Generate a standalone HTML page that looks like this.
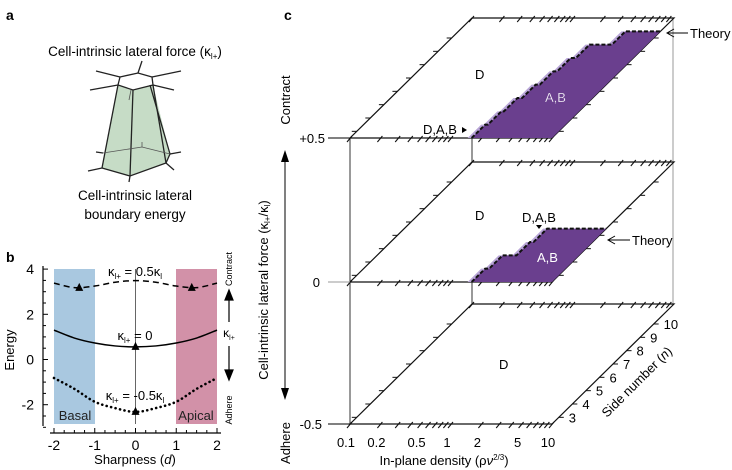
<!DOCTYPE html>
<html><head><meta charset="utf-8">
<style>
html,body{margin:0;padding:0;background:#fff;}
svg{display:block;font-family:"Liberation Sans",sans-serif;}
</style></head>
<body>
<svg id="fig" width="732" height="470" viewBox="0 0 732 470">
<g>
<text x="6" y="20" font-size="14" font-weight="bold">a</text>
<text x="135" y="56" font-size="13.5" text-anchor="middle">Cell-intrinsic lateral force (κ<tspan font-size="8" dy="3">l+</tspan><tspan dy="-3">)</tspan></text>
<polygon points="118,85 133,90 153,85 170,154 166,163 130,176 102,168" fill="#c6dcc6"/>
<g stroke="#222" stroke-width="1.3" fill="none">
<polygon points="120,77 138,73 152,77 153,85 133,90 118,85"/>
<line x1="118" y1="85" x2="102" y2="168"/><line x1="133" y1="90" x2="130" y2="176"/>
<line x1="153" y1="85" x2="166" y2="163"/><line x1="150" y1="85" x2="170" y2="154"/>
<polyline points="102,168 130,176 166,163 170,154"/>
<line x1="120" y1="77" x2="96" y2="71"/><line x1="118" y1="85" x2="90" y2="90"/>
<line x1="138" y1="73" x2="142" y2="61"/><line x1="152" y1="77" x2="181" y2="71"/>
<line x1="153" y1="85" x2="174" y2="90"/>
<line x1="102" y1="168" x2="88" y2="171"/><line x1="130" y1="176" x2="129" y2="182"/>
<line x1="166" y1="163" x2="174" y2="170"/><line x1="170" y1="154" x2="181" y2="152"/>
<line x1="103" y1="153" x2="96" y2="152"/>
</g>
<g stroke="#555" stroke-width="0.8" fill="none"><polyline points="103,153 142,147 170,154"/><line x1="142" y1="147" x2="142" y2="142"/><line x1="129" y1="100" x2="131" y2="90"/></g>
<text x="135" y="200" font-size="13.5" text-anchor="middle">Cell-intrinsic lateral</text>
<text x="135" y="219" font-size="13.5" text-anchor="middle">boundary energy</text>
</g>

<g id="pb">
<text x="6" y="262" font-size="14" font-weight="bold">b</text>
<rect x="54" y="269" width="41" height="155" fill="#a9c8e0"/>
<rect x="176" y="269" width="41" height="155" fill="#d291a8"/>
<line x1="135.5" y1="269" x2="135.5" y2="424" stroke="#666" stroke-width="1"/>
<text x="75" y="420" font-size="13" text-anchor="middle" fill="#222">Basal</text>
<text x="196" y="420" font-size="13" text-anchor="middle" fill="#222">Apical</text>
<text x="14" y="350" font-size="13" text-anchor="middle" transform="rotate(-90 14 350)">Energy</text>
<text x="135" y="464" font-size="13" text-anchor="middle">Sharpness (<tspan font-style="italic">d</tspan>)</text>
<text x="135" y="276" font-size="13" text-anchor="middle">κ<tspan font-size="8" dy="3">l+</tspan><tspan dy="-3"> = 0.5κ</tspan><tspan font-size="8" dy="3">l</tspan></text>
<text x="135" y="340" font-size="13" text-anchor="middle">κ<tspan font-size="8" dy="3">l+</tspan><tspan dy="-3"> = 0</tspan></text>
<text x="135" y="400" font-size="13" text-anchor="middle">κ<tspan font-size="8" dy="3">l+</tspan><tspan dy="-3"> = -0.5κ</tspan><tspan font-size="8" dy="3">l</tspan></text>
<text x="229" y="286" font-size="9" transform="rotate(-90 229 286)" text-anchor="start" dy="3">Contract</text>
<text x="229" y="410" font-size="9" transform="rotate(-90 229 410)" text-anchor="middle" dy="3">Adhere</text>
<g stroke="#000" stroke-width="1.2">
<line x1="229" y1="322" x2="229" y2="298"/><polygon points="225,300 233,300 229,290" fill="#000"/>
<line x1="229" y1="346" x2="229" y2="372"/><polygon points="225,370 233,370 229,380" fill="#000"/>
</g>
<text x="229" y="337" font-size="12" text-anchor="middle">κ<tspan font-size="7" dy="3">l+</tspan></text>
</g>

<g id="pc">
<text x="284" y="20" font-size="14" font-weight="bold">c</text>
</g>
</svg>
<script>
const NS="http://www.w3.org/2000/svg";
function mk(parent,tag,attrs){const e=document.createElementNS(NS,tag);for(const k in attrs)e.setAttribute(k,attrs[k]);parent.appendChild(e);return e;}
const pb=document.getElementById('pb');
const pc=document.getElementById('pc');

/* ---------- Panel b data ---------- */
const sharpness=[-2,-1.5,-1,-0.5,0,0.5,1,1.5,2];
const energyContract=[3.38,3.18,3.25,3.42,3.49,3.42,3.25,3.18,3.38];
const energyZero=[1.3,0.95,0.73,0.6,0.56,0.6,0.73,0.95,1.3];
const energyAdhere=[-0.82,-1.3,-1.87,-2.15,-2.32,-2.15,-1.87,-1.3,-0.82];
const minimaD=[-1.38,1.38,0,0];
const minimaE=[3.17,3.17,0.56,-2.32];
const bxTicks=[-2,-1,0,1,2];
const byTicks=[-2,0,2,4];

const bx=d=>135.5+40.75*d;
const by=E=>359.5-22.6*E;

const yax=mk(pb,'line',{x1:43,y1:266,x2:43,y2:426,stroke:'#000','stroke-width':1.2});


const xax=mk(pb,'line',{x1:50,y1:433,x2:221,y2:433,stroke:'#000','stroke-width':1.2});


for(let E=-3;E<=4.01;E+=0.5){mk(pb,'line',{x1:43,y1:by(E),x2:(Math.abs(E%2)<0.01?48:46),y2:by(E),stroke:'#000','stroke-width':1});}
for(let d=-2;d<=2.01;d+=0.25){mk(pb,'line',{x1:bx(d),y1:433,x2:bx(d),y2:(Math.abs(d%1)<0.01?428:430),stroke:'#000','stroke-width':1});}
byTicks.forEach(v=>{const t=mk(pb,'text',{x:34,y:by(v)+5,'font-size':14,'text-anchor':'end'});t.textContent=v;

});
bxTicks.forEach(v=>{const t=mk(pb,'text',{x:bx(v),y:450,'font-size':14,'text-anchor':'middle'});t.textContent=v;

});
function curve(vals,dash,name){
  const pts=sharpness.map((d,i)=>[bx(d),by(vals[i])]);
  let dstr='M'+pts[0][0]+','+pts[0][1];
  for(let i=0;i<pts.length-1;i++){
    const p0=pts[Math.max(0,i-1)],p1=pts[i],p2=pts[i+1],p3=pts[Math.min(pts.length-1,i+2)];
    const c1=[p1[0]+(p2[0]-p0[0])/6,p1[1]+(p2[1]-p0[1])/6];
    const c2=[p2[0]-(p3[0]-p1[0])/6,p2[1]-(p3[1]-p1[1])/6];
    dstr+=' C'+c1+' '+c2+' '+p2;
  }
  const p=mk(pb,'path',{d:dstr,fill:'none',stroke:'#000','stroke-width':dash==='dot'?2.6:1.5});
  if(dash==='dash')p.setAttribute('stroke-dasharray','6 4');
  if(dash==='dot'){p.setAttribute('stroke-dasharray','0.1 4.5');p.setAttribute('stroke-linecap','round');}
  
  
}
curve(energyContract,'dash','curve-contract');
curve(energyZero,'solid','curve-zero');
curve(energyAdhere,'dot','curve-adhere');
minimaD.forEach((d,i)=>{const x=bx(d),y=by(minimaE[i]);
  const t=mk(pb,'polygon',{points:`${x-4},${y+3} ${x+4},${y+3} ${x},${y-5}`,fill:'#000'});
  
  });

/* ---------- Panel c data ---------- */
const densityTicks=[0.1,0.2,0.5,1,2,5,10];
const sideNumbers=[3,4,5,6,7,8,9,10];
const boundaryContract=[1.6,1.7,1.8,2.0,2.2,2.4,2.7,4.5];
const sideNumbersZero=[3,4,5,6];
const boundaryZero=[1.6,1.75,2.4,2.6];

const FX=350,FW=202,DX=122,DY=-120;
const levelY=[424,282,138];
const uOf=rho=>(Math.log10(rho)+1)/2;
const vOf=n=>(n-2.5)/9;
const P=(u,v,L)=>[FX+u*FW+v*DX, levelY[L]+v*DY];

[[350,138,350,424,'#333'],[472,138,472,162,'#333'],[472,282,472,304,'#333'],[673,18,673,304,'#999']].forEach(a=>{
  const l=mk(pc,'line',{x1:a[0],y1:a[1],x2:a[2],y2:a[3],stroke:a[4],'stroke-width':1});
  
  });

function plane(L,name){
  const g=mk(pc,'g',{});
  
  
  const c=[P(0,0,L),P(1,0,L),P(1,1,L),P(0,1,L)];
  mk(g,'polygon',{points:c.map(p=>p.join(',')).join(' '),fill:'none',stroke:'#111','stroke-width':1.2});
  for(let dec=-1;dec<1;dec++)for(let m=1;m<=9;m++){const rho=m*Math.pow(10,dec);const u=uOf(rho);
    [0,1].forEach(v=>{const p=P(u,v,L);mk(g,'line',{x1:p[0]-3,y1:p[1]+4,x2:p[0]+2,y2:p[1]-2,stroke:'#111','stroke-width':1.1});});}
  const p10=P(1,0,L);mk(g,'line',{x1:p10[0]-3,y1:p10[1]+4,x2:p10[0]+2,y2:p10[1]-2,stroke:'#111'});
  sideNumbers.forEach(n=>{const v=vOf(n);const a=P(0,v,L),b=P(1,v,L);
    mk(g,'line',{x1:a[0]-5,y1:a[1],x2:a[0],y2:a[1],stroke:'#111'});
    mk(g,'line',{x1:b[0],y1:b[1],x2:b[0]+5,y2:b[1],stroke:'#111'});});
  return g;
}
plane(0,'plane-adhere');
const gz=plane(1,'plane-zero');
const gt=plane(2,'plane-contract');

function region(g,ns,rhos,L,name){
  const pts=[];
  ns.forEach((n,i)=>{const u=uOf(rhos[i]);pts.push(P(u,Math.max(0,vOf(n-0.5)),L));pts.push(P(u,vOf(n+0.5),L));});
  const vTop=vOf(ns[ns.length-1]+0.5);
  const poly=pts.concat([P(1,vTop,L),P(1,0,L)]);
  const sh=mk(g,'polygon',{points:poly.map(p=>(p[0]-4)+','+(p[1])).join(' '),fill:'#b9a6d8'});
  
  
  const r=mk(g,'polygon',{points:poly.map(p=>p.join(',')).join(' '),fill:'#6a3f8e'});
  
  
  const th=mk(g,'polyline',{points:pts.concat([P(1,vTop,L)]).map(p=>p.join(',')).join(' '),fill:'none',stroke:'#111','stroke-width':2,'stroke-dasharray':'4 2'});
  
  
}
region(gt,sideNumbers,boundaryContract,2,'region-ab-contract');
region(gz,sideNumbersZero,boundaryZero,1,'region-ab-zero');

densityTicks.forEach(r=>{const p=P(uOf(r),0,0);const t=mk(pc,'text',{x:p[0]-4,y:447,'font-size':13,'text-anchor':'middle'});t.textContent=r;
  
  });
sideNumbers.forEach(n=>{const p=P(1,vOf(n),0);const t=mk(pc,'text',{x:p[0]+10,y:p[1]+5,'font-size':13});t.textContent=n;
  
  });
</script>
<div style="position:absolute;left:0;top:0;width:732px;height:470px;pointer-events:none">
<svg width="732" height="470" style="font-family:'Liberation Sans',sans-serif">
<g stroke="#000" stroke-width="1" fill="none">
<line x1="328" y1="138" x2="350" y2="138"/><line x1="328" y1="282" x2="350" y2="282" stroke="#999"/><line x1="328" y1="424" x2="350" y2="424"/>
<line x1="285" y1="160" x2="285" y2="390"/>
<polyline points="668,33 688,33"/><polyline points="674,29 667,33 674,37"/>
<polyline points="609,240 630,240"/><polyline points="615,236 608,240 615,244"/>
</g>
<polygon points="281,162 289,162 285,150" fill="#000"/><polygon points="281,388 289,388 285,400" fill="#000"/>
<polygon points="462,127 462,133 467,130" fill="#000"/><polygon points="536,225 542,225 539,229" fill="#000"/>
<text x="325" y="143" font-size="13" text-anchor="end">+0.5</text>
<text x="320" y="287" font-size="13" text-anchor="end">0</text>
<text x="322" y="429" font-size="13" text-anchor="end">-0.5</text>
<text x="268" y="290" font-size="13" text-anchor="middle" transform="rotate(-90 268 290)">Cell-intrinsic lateral force (κ<tspan font-size="8" dy="2">l+</tspan><tspan dy="-2">/κ</tspan><tspan font-size="8" dy="2">l</tspan><tspan dy="-2">)</tspan></text>
<text x="290" y="100" font-size="13" text-anchor="middle" transform="rotate(-90 290 100)">Contract</text>
<text x="290" y="443" font-size="13" text-anchor="middle" transform="rotate(-90 290 443)">Adhere</text>
<text x="444" y="465" font-size="13" text-anchor="middle">In-plane density (ρ<tspan font-style="italic">ν</tspan><tspan font-size="8" dy="-5">2/3</tspan><tspan dy="5">)</tspan></text>
<text x="640" y="385" font-size="13" text-anchor="middle" transform="rotate(-45 640 385)">Side number (<tspan font-style="italic">n</tspan>)</text>
<text x="690" y="38" font-size="13">Theory</text>
<text x="632" y="245" font-size="13">Theory</text>
<text x="475" y="79" font-size="13">D</text>
<text x="475" y="220" font-size="13">D</text>
<text x="499" y="369" font-size="13">D</text>
<text x="423" y="134" font-size="13">D,A,B</text>
<text x="522" y="222" font-size="13">D,A,B</text>
<text x="545" y="102" font-size="13" fill="#fff" stroke="#6a3f8e" stroke-width="0.3">A,B</text>
<text x="537" y="262" font-size="13" fill="#fff">A,B</text>
</svg></div>
</body></html>
